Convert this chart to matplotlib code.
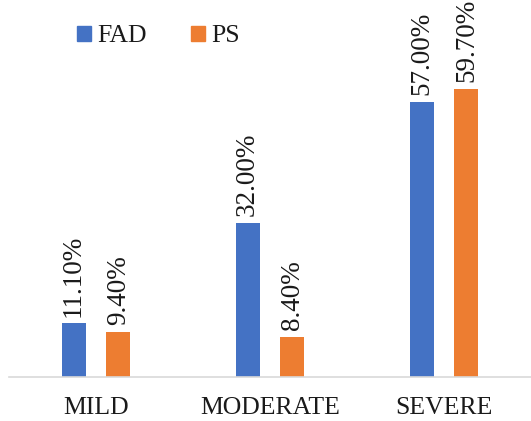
import matplotlib
matplotlib.use("Agg")
import matplotlib.pyplot as plt
import numpy as np
from matplotlib.patches import Patch

categories = ["MILD", "MODERATE", "SEVERE"]
fad = [11.1, 32.0, 57.0]
ps = [9.4, 8.4, 59.7]
fad_labels = ["11.10%", "32.00%", "57.00%"]
ps_labels = ["9.40%", "8.40%", "59.70%"]

plt.rcParams['font.family'] = ['Liberation Serif', 'DejaVu Serif']

blue = "#4472C4"
orange = "#ED7D31"

fig = plt.figure(figsize=(5.31, 4.21), dpi=100)
ax = fig.add_axes([9/531, 1-377/421, 1-9/531, 377/421])

x = np.arange(len(categories))
w = 0.138
off = 0.129
b1 = ax.bar(x - off, fad, w, color=blue)
b2 = ax.bar(x + off, ps, w, color=orange)

for bars, labs in ((b1, fad_labels), (b2, ps_labels)):
    for r, lab in zip(bars, labs):
        ax.annotate(lab, (r.get_x() + r.get_width()/2, r.get_height()),
                    xytext=(0, 5), textcoords="offset points",
                    rotation=90, ha="center", va="bottom",
                    fontsize=19.5, color="#1a1a1a")

ax.set_xlim(-0.5, 2.5)
ax.set_ylim(0, 78.2)
ax.set_xticks(x)
ax.set_xticklabels(categories, fontsize=18.5, color="#1a1a1a")
ax.tick_params(axis='x', length=0, pad=14.5)
ax.set_yticks([])
for s in ("top", "right", "left"):
    ax.spines[s].set_visible(False)
ax.spines["bottom"].set_color("#D9D9D9")
ax.spines["bottom"].set_linewidth(1.2)

handles = [Patch(color=blue, label="FAD"), Patch(color=orange, label="PS")]
fig.legend(handles=handles, loc="center left", bbox_to_anchor=(77/531, 1-36.5/421),
           ncol=2, frameon=False, fontsize=18.5, handlelength=0.55, handleheight=0.55,
           handletextpad=0.25, columnspacing=1.7, borderpad=0, borderaxespad=0,
           labelcolor="#1a1a1a")

fig.savefig("out.png", dpi=100)
